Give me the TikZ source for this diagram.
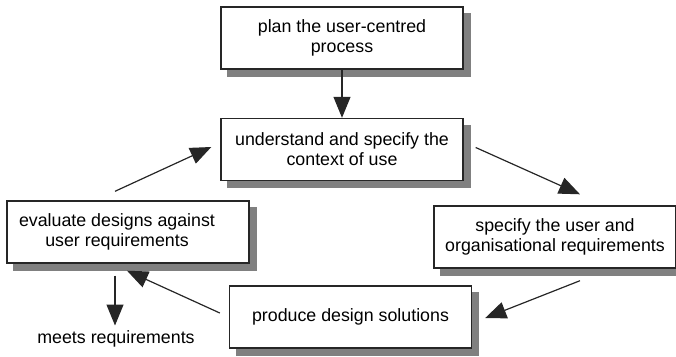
\documentclass[tikz,border=0pt]{standalone}
\usepackage{fontspec}
\setmainfont{Liberation Sans}
\usetikzlibrary{arrows.meta,calc,backgrounds}
\begin{document}
\begin{tikzpicture}[x=1pt,y=-1pt,
  box/.style={draw=black!85, line width=1.4pt, fill=white, minimum width=242pt, minimum height=62pt, inner sep=0pt,
    align=center, font=\fontsize{17.8}{20}\selectfont},
  shadowbox/.style={fill=black!50},
  txt/.style={align=center, inner sep=0pt, font=\fontsize{17.8}{20}\selectfont},
  arr/.style={draw=black!85, line width=1.2pt, -{Triangle[length=21pt,width=17pt]}}]
\useasboundingbox (0,0) rectangle (676,356);
\node[box] (plan) at (342,38) {plan the user-centred\\process};
\node[box] (under) at (342,149.5) {understand and specify the\\context of use};
\node[box] (spec) at (555,237) {specify the user and\\organisational requirements};
\node[box] (prod) at (350.5,317) {produce design solutions};
\node[box] (eval) at (128,232) {};
\node[txt] (evalt) at (117,232) {evaluate designs against\\user requirements};
\node[txt] (meets) at (116,339) {meets requirements};
\begin{pgfonlayer}{background}
  \foreach \b in {plan,under,spec,prod,eval}
    \fill[shadowbox] ($(\b.north west)+(7,7)$) rectangle ($(\b.south east)+(7,7)$);
\end{pgfonlayer}
\draw[arr] (plan.south) -- (under.north);
\draw[arr] ($(under.east)+(12,-2)$) -- ($(spec.north)+(25,-11)$);
\draw[arr] ($(spec.south)+(25,12)$) -- ($(prod.east)+(13,1)$);
\draw[arr] ($(prod.west)+(-9,-4)$) -- ($(eval.south)+(-1,7)$);
\draw[arr] ($(eval.north)+(-13,-9)$) -- ($(under.west)+(-9,-2.5)$);
\draw[arr] ($(eval.south)+(-13,12)$) -- ($(meets.north)+(-1,-5)$);
\end{tikzpicture}
\end{document}
